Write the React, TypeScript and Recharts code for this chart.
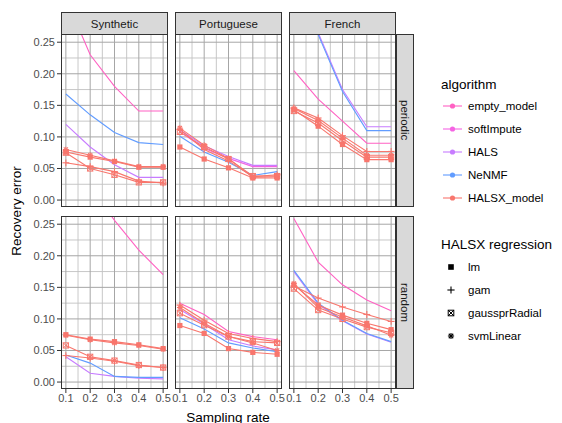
import { LineChart, Line, XAxis, YAxis, CartesianGrid } from "recharts";

// sampling rates on the x axis
const rates = [0.1, 0.2, 0.3, 0.4, 0.5];
const datasets = ["Synthetic", "Portuguese", "French"];
const masks = ["periodic", "random"];
const algorithms = ["empty_model", "softImpute", "HALS", "NeNMF", "HALSX_model"];
const regressions = ["lm", "gam", "gaussprRadial", "svmLinear"];
const yTicks = [0, 0.05, 0.1, 0.15, 0.2, 0.25];

const algoColors: Record<string, string> = {
  empty_model: "#FF61C3",
  softImpute: "#F564E3",
  HALS: "#C77CFF",
  NeNMF: "#619CFF",
  HALSX_model: "#F8766D",
};

type Series = Record<string, (number | null)[] | null>;

// recovery error per panel (null = not visible in the panel)
const syntheticPeriodic: Series = {
  empty_model: [0.32, 0.23, 0.18, 0.141, 0.141],
  softImpute: null,
  HALS: [0.12, 0.084, 0.056, 0.036, 0.036],
  NeNMF: [0.168, 0.135, 0.107, 0.091, 0.088],
  lm: [0.076, 0.068, 0.061, 0.052, 0.052],
  gam: [0.059, 0.053, 0.045, 0.03, 0.027],
  gaussprRadial: [0.075, 0.05, 0.04, 0.028, 0.028],
  svmLinear: [0.08, 0.071, 0.062, 0.053, 0.053],
};

const portuguesePeriodic: Series = {
  empty_model: null,
  softImpute: [0.108, 0.082, 0.066, 0.053, 0.053],
  HALS: [0.111, 0.086, 0.069, 0.055, 0.055],
  NeNMF: [0.101, 0.076, 0.06, 0.039, 0.045],
  lm: [0.084, 0.065, 0.051, 0.035, 0.035],
  gam: [0.112, 0.08, 0.062, 0.037, 0.04],
  gaussprRadial: [0.108, 0.084, 0.065, 0.038, 0.038],
  svmLinear: [0.114, 0.087, 0.066, 0.036, 0.037],
};

const frenchPeriodic: Series = {
  empty_model: [0.205, 0.16, 0.125, 0.09, 0.09],
  softImpute: null,
  HALS: [0.36, 0.265, 0.175, 0.116, 0.116],
  NeNMF: [0.36, 0.262, 0.172, 0.11, 0.11],
  lm: [0.143, 0.117, 0.088, 0.064, 0.064],
  gam: [0.146, 0.13, 0.102, 0.077, 0.077],
  gaussprRadial: [0.141, 0.122, 0.094, 0.068, 0.068],
  svmLinear: [0.145, 0.126, 0.098, 0.071, 0.071],
};

const syntheticRandom: Series = {
  empty_model: [0.37, 0.31, 0.256, 0.209, 0.17],
  softImpute: null,
  HALS: [0.04, 0.014, 0.009, 0.006, 0.005],
  NeNMF: [0.043, 0.03, 0.009, 0.0074, 0.0074],
  lm: [0.075, 0.068, 0.064, 0.059, 0.053],
  gam: [0.042, 0.038, 0.033, 0.026, 0.023],
  gaussprRadial: [0.058, 0.04, 0.034, 0.027, 0.023],
  svmLinear: [0.074, 0.067, 0.062, 0.058, 0.052],
};

const portugueseRandom: Series = {
  empty_model: [0.125, 0.107, 0.08, 0.072, 0.067],
  softImpute: null,
  HALS: [0.115, 0.092, 0.067, 0.057, 0.051],
  NeNMF: [0.102, 0.084, 0.062, 0.054, 0.048],
  lm: [0.0895, 0.077, 0.053, 0.047, 0.044],
  gam: [0.122, 0.098, 0.077, 0.069, 0.064],
  gaussprRadial: [0.109, 0.09, 0.072, 0.064, 0.062],
  svmLinear: [0.118, 0.093, 0.072, 0.062, 0.05],
};

const frenchRandom: Series = {
  empty_model: [0.259, 0.19, 0.154, 0.13, 0.113],
  softImpute: null,
  HALS: [0.175, 0.123, 0.097, 0.076, 0.063],
  NeNMF: [0.177, 0.125, 0.098, 0.077, 0.064],
  lm: [0.154, 0.122, 0.106, 0.093, 0.083],
  gam: [0.152, 0.133, 0.119, 0.107, 0.096],
  gaussprRadial: [0.148, 0.114, 0.1, 0.087, 0.078],
  svmLinear: [0.156, 0.118, 0.103, 0.089, 0.074],
};

const panels: Series[][] = [
  [syntheticPeriodic, portuguesePeriodic, frenchPeriodic],
  [syntheticRandom, portugueseRandom, frenchRandom],
];

const FONT = "'Liberation Sans', Arial, Helvetica, sans-serif";
const colX = [61, 175, 289];
const rowY = [34, 216];
const PW = 107;
const PH = 173;
const Y_AXIS_W = 40;
const X_AXIS_H = 22;
const SIDE = 12; // room for edge tick labels

function Marker({ shape, cx, cy, color, s = 2.6 }: { shape: string; cx: number; cy: number; color: string; s?: number }) {
  if (!Number.isFinite(cx) || !Number.isFinite(cy)) return <g />;
  if (shape === "lm") {
    return <rect x={cx - s} y={cy - s} width={2 * s} height={2 * s} fill={color} />;
  }
  if (shape === "gam") {
    return (
      <g stroke={color} strokeWidth={1.1}>
        <line x1={cx - s - 0.8} y1={cy} x2={cx + s + 0.8} y2={cy} />
        <line x1={cx} y1={cy - s - 0.8} x2={cx} y2={cy + s + 0.8} />
      </g>
    );
  }
  if (shape === "gaussprRadial") {
    return (
      <g stroke={color} strokeWidth={1} fill="none">
        <rect x={cx - s} y={cy - s} width={2 * s} height={2 * s} />
        <line x1={cx - s} y1={cy - s} x2={cx + s} y2={cy + s} />
        <line x1={cx - s} y1={cy + s} x2={cx + s} y2={cy - s} />
      </g>
    );
  }
  const d = s * 0.8;
  return (
    <g stroke={color} strokeWidth={1.1}>
      <line x1={cx - s - 0.3} y1={cy} x2={cx + s + 0.3} y2={cy} />
      <line x1={cx} y1={cy - s - 0.3} x2={cx} y2={cy + s + 0.3} />
      <line x1={cx - d} y1={cy - d} x2={cx + d} y2={cy + d} />
      <line x1={cx - d} y1={cy + d} x2={cx + d} y2={cy - d} />
    </g>
  );
}

const makeDot = (shape: string) => (p: any) => (
  <Marker key={`${shape}-${p.index}`} shape={shape} cx={p.cx} cy={p.cy} color={algoColors.HALSX_model} />
);

function Panel({ series, row, col }: { series: Series; row: number; col: number }) {
  const showY = col === 0;
  const showX = row === 1;
  const data = rates.map((r, i) => {
    const d: Record<string, number | null> = { rate: r };
    Object.keys(series).forEach((k) => {
      const arr = series[k];
      if (arr) d[k] = arr[i];
    });
    return d;
  });
  const padLeft = showY ? Y_AXIS_W : SIDE;
  const left = colX[col] - padLeft;
  const width = PW + padLeft + SIDE;
  const height = PH + (showX ? X_AXIS_H : 0);
  const tickStyle = { fontSize: 11, fill: "#4d4d4d", fontFamily: FONT };

  return (
    <div style={{ position: "absolute", left, top: rowY[row], width, height }}>
      <LineChart
        width={width}
        height={height}
        data={data}
        margin={{ top: 0, right: SIDE, bottom: 0, left: showY ? 0 : SIDE }}
      >
        <CartesianGrid
          stroke="#c2c2c2"
          strokeWidth={0.9}
          horizontalValues={[0.025, 0.075, 0.125, 0.175, 0.225]}
          verticalValues={[0.15, 0.25, 0.35, 0.45]}
        />
        <CartesianGrid stroke="#a6a6a6" strokeWidth={1} horizontalValues={yTicks} verticalValues={rates} />
        <XAxis
          type="number"
          dataKey="rate"
          domain={[0.08, 0.52]}
          allowDataOverflow
          ticks={rates}
          hide={!showX}
          height={X_AXIS_H}
          tick={tickStyle}
          tickLine={{ stroke: "#333" }}
          tickSize={4}
          tickMargin={1}
          axisLine={false}
          interval={0}
        />
        <YAxis
          type="number"
          domain={[-0.011, 0.263]}
          allowDataOverflow
          ticks={yTicks}
          hide={!showY}
          width={Y_AXIS_W}
          tick={tickStyle}
          tickLine={{ stroke: "#333" }}
          tickSize={4}
          tickMargin={2}
          axisLine={false}
          interval={0}
          tickFormatter={(v: number) => v.toFixed(2)}
        />
        {["empty_model", "softImpute", "HALS", "NeNMF"].map((k) =>
          series[k] ? (
            <Line
              key={k}
              type="linear"
              dataKey={k}
              stroke={algoColors[k]}
              strokeWidth={1.1}
              dot={false}
              isAnimationActive={false}
            />
          ) : null
        )}
        {regressions.map((k) =>
          series[k] ? (
            <Line
              key={k}
              type="linear"
              dataKey={k}
              stroke={algoColors.HALSX_model}
              strokeWidth={1.1}
              dot={makeDot(k)}
              isAnimationActive={false}
            />
          ) : null
        )}
      </LineChart>
      <div
        style={{
          position: "absolute",
          left: padLeft,
          top: 0,
          width: PW,
          height: PH,
          border: "1px solid #333",
          boxSizing: "border-box",
          pointerEvents: "none",
        }}
      />
    </div>
  );
}

function Legend() {
  const ys = [106, 129, 152, 175, 198];
  const ys2 = [267, 290, 313, 336];
  return (
    <svg width={562} height={423} style={{ position: "absolute", left: 0, top: 0, pointerEvents: "none" }}>
      <text x={441} y={84} fontSize={13.5} fontFamily={FONT} dominantBaseline="central" fill="#000">
        algorithm
      </text>
      {algorithms.map((a, i) => (
        <g key={a}>
          <line x1={443} x2={462} y1={ys[i]} y2={ys[i]} stroke={algoColors[a]} strokeWidth={1.1} />
          <circle cx={452.5} cy={ys[i]} r={2.6} fill={algoColors[a]} />
          <text x={468} y={ys[i]} fontSize={11.5} fontFamily={FONT} dominantBaseline="central" fill="#000">
            {a}
          </text>
        </g>
      ))}
      <text x={441} y={244} fontSize={13.5} fontFamily={FONT} dominantBaseline="central" fill="#000">
        HALSX regression
      </text>
      {regressions.map((r, i) => (
        <g key={r}>
          <Marker shape={r} cx={451} cy={ys2[i]} color="#000" s={2.8} />
          <text x={468} y={ys2[i]} fontSize={11.5} fontFamily={FONT} dominantBaseline="central" fill="#000">
            {r}
          </text>
        </g>
      ))}
    </svg>
  );
}

export default function App() {
  return (
    <div
      style={{
        position: "absolute",
        left: 0,
        top: 0,
        width: 562,
        height: 423,
        background: "#fff",
        overflow: "hidden",
        fontFamily: FONT,
      }}
    >
      {panels.map((rowPanels, r) =>
        rowPanels.map((s, c) => <Panel key={`${r}-${c}`} series={s} row={r} col={c} />)
      )}
      {datasets.map((d, c) => (
        <div
          key={d}
          style={{
            position: "absolute",
            left: colX[c],
            top: 12,
            width: PW,
            height: 23,
            background: "#d9d9d9",
            border: "1px solid #333",
            boxSizing: "border-box",
            fontSize: 11.5,
            color: "#1a1a1a",
            display: "flex",
            alignItems: "center",
            justifyContent: "center",
          }}
        >
          {d}
        </div>
      ))}
      {masks.map((m, r) => (
        <div
          key={m}
          style={{
            position: "absolute",
            left: 396,
            top: rowY[r],
            width: 18,
            height: PH,
            background: "#d9d9d9",
            border: "1px solid #333",
            boxSizing: "border-box",
            fontSize: 11.5,
            color: "#1a1a1a",
            writingMode: "vertical-rl",
            display: "flex",
            alignItems: "center",
            justifyContent: "center",
          }}
        >
          {m}
        </div>
      ))}
      <div
        style={{
          position: "absolute",
          left: 16,
          top: 211,
          transform: "translate(-50%, -50%) rotate(-90deg)",
          fontSize: 13.5,
          whiteSpace: "nowrap",
          color: "#000",
        }}
      >
        Recovery error
      </div>
      <div
        style={{
          position: "absolute",
          left: 228,
          top: 417,
          transform: "translate(-50%, -50%)",
          fontSize: 13.5,
          whiteSpace: "nowrap",
          color: "#000",
        }}
      >
        Sampling rate
      </div>
      <Legend />
    </div>
  );
}
